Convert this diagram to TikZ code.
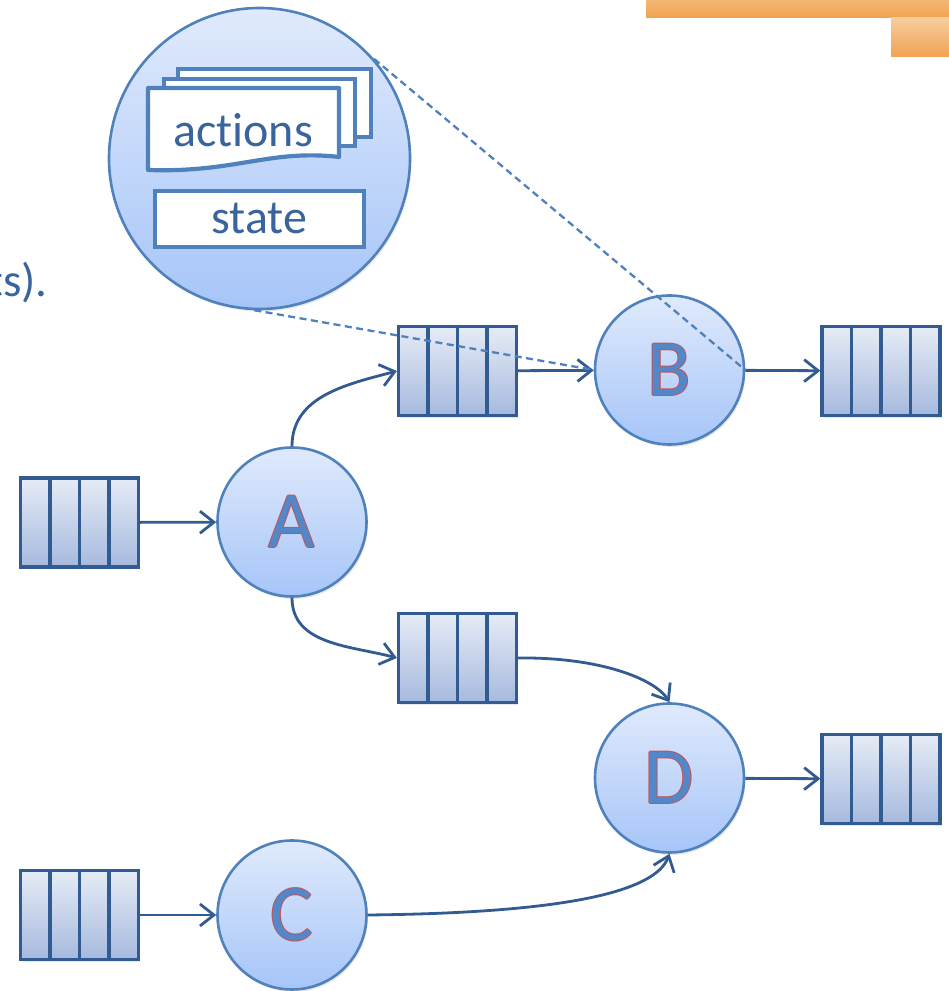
\documentclass[tikz,border=0pt]{standalone}
\usepackage{fontspec}
\setmainfont{Carlito}[Ligatures=NoCommon]
\usetikzlibrary{arrows.meta,calc,shadows}
\definecolor{cline}{RGB}{79,129,189}
\definecolor{ctop}{RGB}{224,234,252}
\definecolor{cbot}{RGB}{166,197,248}
\definecolor{qline}{RGB}{50,92,145}
\definecolor{qtop}{RGB}{230,236,246}
\definecolor{qbot}{RGB}{166,185,222}
\definecolor{arr}{RGB}{50,92,145}
\definecolor{txt}{RGB}{58,100,158}
\definecolor{letfill}{RGB}{84,134,200}
\definecolor{letline}{RGB}{196,84,84}
\definecolor{otop}{RGB}{245,183,116}
\definecolor{obot}{RGB}{240,163,82}
\definecolor{otopl}{RGB}{248,204,156}
\newcommand\wordart[1]{\leavevmode\rlap{\kern-0.9pt\textcolor{letline}{#1}}\rlap{\kern0.9pt\textcolor{letline}{#1}}\rlap{\raisebox{0.9pt}{\textcolor{letline}{#1}}}\rlap{\raisebox{-0.9pt}{\textcolor{letline}{#1}}}\textcolor{letfill}{#1}}
\tikzset{
  proc/.style={circle, draw=cline, line width=2.6pt, minimum size=149pt, inner sep=0pt,
    top color=ctop, bottom color=cbot,
    drop shadow={opacity=0.18, shadow xshift=1.5pt, shadow yshift=-2.5pt},
    font=\fontsize{80}{80}\selectfont},
  queue/.style={rectangle, draw=qline, line width=3.2pt, minimum width=118pt, minimum height=89pt,
    inner sep=0pt, top color=qtop, bottom color=qbot,
    drop shadow={opacity=0.18, shadow xshift=1.5pt, shadow yshift=-2.5pt},
    path picture={\foreach \i in {1,2,3}{\draw[qline,line width=3.2pt]
      ($(path picture bounding box.north west)!\i/4!(path picture bounding box.north east)$) --
      ($(path picture bounding box.south west)!\i/4!(path picture bounding box.south east)$);}}},
  flow/.style={draw=arr, line width=2.8pt, -{Straight Barb[length=14pt,width=22pt]}},
  zoomline/.style={draw=cline, line width=2.3pt, dash pattern=on 7pt off 4.5pt},
  inbox/.style={draw=cline, line width=4.2pt, fill=white},
  bigtxt/.style={text=txt, font=\fontsize{48}{48}\selectfont, inner sep=0pt}
}
\begin{document}
\begin{tikzpicture}[x=1pt,y=1pt]
\useasboundingbox (0,0) rectangle (949,991);
% orange decoration
\shade[top color=otop, bottom color=obot] (646,991) rectangle (949,973);
\shade[top color=otopl, bottom color=obot] (891,973) rectangle (949,934);
% cut-off text
\node[anchor=base east, text=txt, font=\fontsize{47}{47}\selectfont, inner sep=0pt] (tail) at (48,694) {ts).};
% big zoom circle
\node[circle, draw=cline, line width=2.6pt, minimum size=301pt, top color=ctop, bottom color=cbot,
  drop shadow={opacity=0.18, shadow xshift=1.5pt, shadow yshift=-2.5pt}] (big) at (259.5,832.5) {};
\draw[inbox] (178,922) rectangle (371,854);
\draw[inbox] (164,912) rectangle (355,845);
\draw[inbox, line join=round] (148,903) -- (339,903) -- (339,834)
   .. controls (270,842) and (235,818) .. (148,821) -- cycle;
\node[bigtxt] (actions) at (243,861) {actions};
\node[bigtxt, draw=cline, line width=4.2pt, fill=white, minimum width=209pt, minimum height=56pt] (state) at (259.5,772) {state};
% queues
\node[queue] (q1) at (79.5,468.5) {};
\node[queue] (q2) at (457.5,620) {};
\node[queue] (q3) at (881,620) {};
\node[queue] (q4) at (457.5,333) {};
\node[queue] (q5) at (881,212) {};
\node[queue] (q6) at (79.5,76) {};
% processes
\node[proc] (A) at (292,469) {\wordart{A}};
\node[proc] (B) at (669.5,621) {\wordart{B}};
\node[proc] (C) at (292,76) {\wordart{C}};
\node[proc] (D) at (669.5,213) {\wordart{D}};
% flows
\draw[flow] (q1) -- (A);
\draw[flow] (A.north) to[out=90, in=195] (q2.west);
\draw[flow] (q2) -- (B);
\draw[flow] (B) -- (q3);
\draw[flow] (A.south) to[out=-90, in=165] (q4.west);
\draw[flow] (q4.east) .. controls (600,334) and (655,312) .. (D.north);
\draw[flow] (q6) -- (C);
\draw[flow] (C.east) .. controls (560,78) and (655,98) .. (D.south);
\draw[flow] (D) -- (q5);
% zoom lines
\draw[zoomline] (big.-92) -- (B.west);
\draw[zoomline] (big.41) -- (B.east);
\end{tikzpicture}
\end{document}
